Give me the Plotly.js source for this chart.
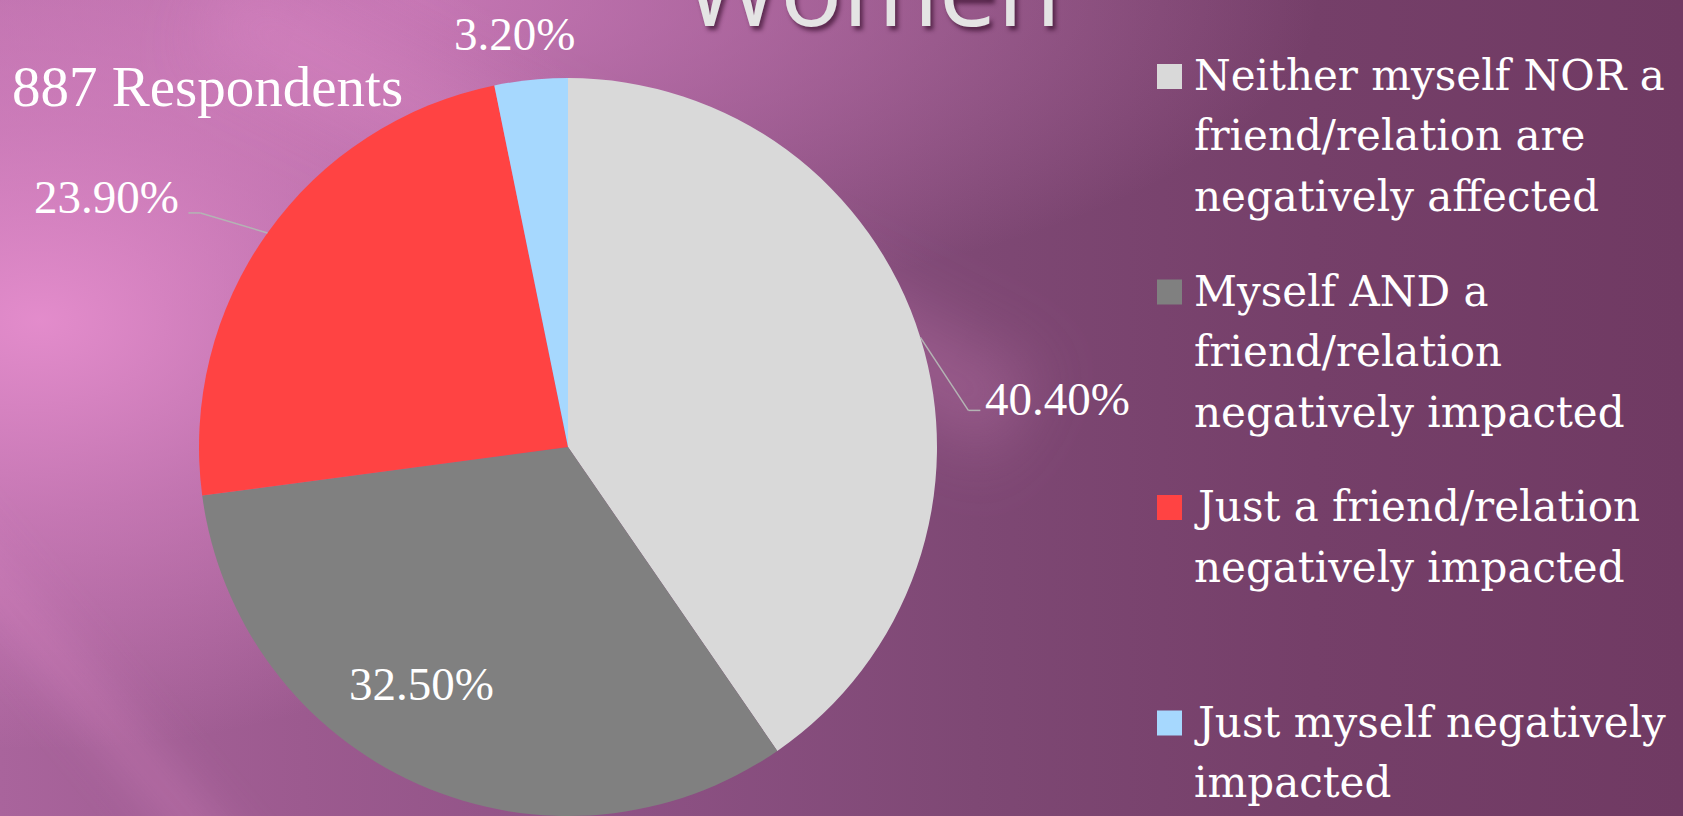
<!DOCTYPE html>
<html>
<head>
<meta charset="utf-8">
<script src="https://cdn.plot.ly/plotly-3.0.1.min.js"></script>
<style>
  html, body { margin: 0; padding: 0; }
  body { width: 1683px; height: 816px; overflow: hidden; position: relative; background: #753f69; }
  .bg { position: absolute; left: 0; top: 0; width: 1683px; height: 816px; }
  #bg1 {
    background:
      radial-gradient(ellipse 650px 430px at 40px 320px, rgba(230,142,206,0.95) 0%, rgba(222,136,200,0.55) 45%, rgba(222,136,200,0) 100%),
      radial-gradient(ellipse 900px 320px at 420px 0px, rgba(212,128,192,0.75) 0%, rgba(212,128,192,0) 100%),
      linear-gradient(90deg, #a9649c 0%, #9c5a8f 18%, #8d5184 38%, #7e4874 58%, #753f69 78%, #703a63 100%);
  }
  #streak1 {
    position: absolute; left: 250px; top: -60px; width: 900px; height: 150px;
    background: linear-gradient(180deg, rgba(235,150,210,0) 0%, rgba(235,150,210,0.28) 50%, rgba(235,150,210,0) 100%);
    transform: rotate(27deg); transform-origin: 0 0; filter: blur(30px);
  }
  #streak2 {
    position: absolute; left: -120px; top: 380px; width: 700px; height: 90px;
    background: linear-gradient(180deg, rgba(225,140,200,0) 0%, rgba(225,140,200,0.26) 50%, rgba(225,140,200,0) 100%);
    transform: rotate(50deg); transform-origin: 0 0; filter: blur(16px);
  }
  #chart { position: absolute; left: 0; top: 0; width: 1683px; height: 816px; }
</style>
</head>
<body>
<div class="bg" id="bg1"></div>
<div id="streak1"></div>
<div id="streak2"></div>
<div id="chart"></div>
<script>
// ---- data ----
const categories = [
  "Neither myself NOR a<br>friend/relation are<br>negatively affected",
  "Myself AND a<br>friend/relation<br>negatively impacted",
  "Just a friend/relation<br>negatively impacted",
  "Just myself negatively<br>impacted"
];
const percentages = [40.4, 32.5, 23.9, 3.2];
const sliceColors = ["#D9D9D9", "#808080", "#FF4343", "#A6D8FE"];
const chartTitle = "Women";
const respondentsNote = "887 Respondents";

// ---- geometry / style (not data) ----
const W = 1683, H = 816;
const serif = "Liberation Serif, Times New Roman, serif";
const legendSerif = "DejaVu Serif, serif";
const px2x = p => p / W;
const px2y = p => 1 - p / H;

const pieCx = 568, pieCy = 447, pieR = 369;
// label offsets (px) from the slice's mid-angle rim point; leader = [elbow, end] offsets from the rim point
const labelStyle = [
  { dx: 137, dy: 62, leader: [[48, 73], [60, 73]] },
  { dx: 3, dy: -100, leader: null },
  { dx: -161, dy: -36, leader: [[-67, -20], [-79, -20]] },
  { dx: -16, dy: -46, leader: null }
];

const pieTrace = {
  type: "pie",
  labels: categories.map(c => c.replace(/<br>/g, " ")),
  values: percentages,
  sort: false,
  direction: "clockwise",
  rotation: 0,
  marker: { colors: sliceColors, line: { width: 0 } },
  textinfo: "none",
  domain: { x: [px2x(pieCx - pieR), px2x(pieCx + pieR)], y: [px2y(pieCy + pieR), px2y(pieCy - pieR)] },
  hoverinfo: "label+percent",
  showlegend: false
};

const shapes = [];
const annotations = [];
const leaderLine = { color: "#B4B4B4", width: 1.5 };

// slice value labels, positioned from the cumulative angles of the data
const total = percentages.reduce((a, b) => a + b, 0);
let cum = 0;
percentages.forEach((v, i) => {
  const mid = (cum + v / 2) / total * 2 * Math.PI;
  cum += v;
  const ex = pieCx + pieR * Math.sin(mid);
  const ey = pieCy - pieR * Math.cos(mid);
  const st = labelStyle[i];
  annotations.push({
    xref: "paper", yref: "paper", x: px2x(ex + st.dx), y: px2y(ey + st.dy),
    xanchor: "center", yanchor: "middle",
    text: v.toFixed(2) + "%", showarrow: false,
    font: { family: serif, size: 47, color: "#FFFFFF" }
  });
  if (st.leader) {
    const pts = [[ex, ey]].concat(st.leader.map(p => [ex + p[0], ey + p[1]]));
    for (let k = 0; k < pts.length - 1; k++) {
      shapes.push({
        type: "line", xref: "paper", yref: "paper",
        x0: px2x(pts[k][0]), y0: px2y(pts[k][1]),
        x1: px2x(pts[k + 1][0]), y1: px2y(pts[k + 1][1]),
        line: leaderLine
      });
    }
  }
});

// manual legend (larger swatches than Plotly's fixed pie swatch)
const legendLeft = 1157, swatch = 25, textLeft = 1192;
const legendTop = 64, legendStep = 215.5, legendFont = 42, legendLineGap = 60.5;
categories.forEach((cat, i) => {
  const top = legendTop + i * legendStep;
  shapes.push({
    type: "rect", xref: "paper", yref: "paper",
    x0: px2x(legendLeft), x1: px2x(legendLeft + swatch),
    y0: px2y(top + swatch), y1: px2y(top),
    fillcolor: sliceColors[i], line: { width: 0 }
  });
  cat.split("<br>").forEach((line, j) => {
    annotations.push({
      xref: "paper", yref: "paper",
      x: px2x(textLeft), y: px2y(top - 15 + j * legendLineGap),
      xanchor: "left", yanchor: "top", align: "left",
      text: line, showarrow: false,
      font: { family: legendSerif, size: legendFont, color: "#FFFFFF" }
    });
  });
});

annotations.push({
  xref: "paper", yref: "paper",
  x: px2x(10), y: px2y(53),
  xanchor: "left", yanchor: "top",
  text: respondentsNote, showarrow: false,
  font: { family: serif, size: 57, color: "#FFFFFF" }
});

annotations.push({
  xref: "paper", yref: "paper",
  x: px2x(872), y: px2y(58),
  xanchor: "center", yanchor: "bottom",
  text: chartTitle, showarrow: false,
  font: { family: "Open Sans, sans-serif", size: 104, color: "#E4E4E4",
          shadow: "3px 4px 4px rgba(50,10,40,0.65)" }
});

const layout = {
  width: W, height: H,
  margin: { l: 0, r: 0, t: 0, b: 0, pad: 0 },
  paper_bgcolor: "rgba(0,0,0,0)",
  plot_bgcolor: "rgba(0,0,0,0)",
  showlegend: false,
  shapes: shapes,
  annotations: annotations
};

Plotly.newPlot("chart", [pieTrace], layout, { displayModeBar: false });
</script>
</body>
</html>
